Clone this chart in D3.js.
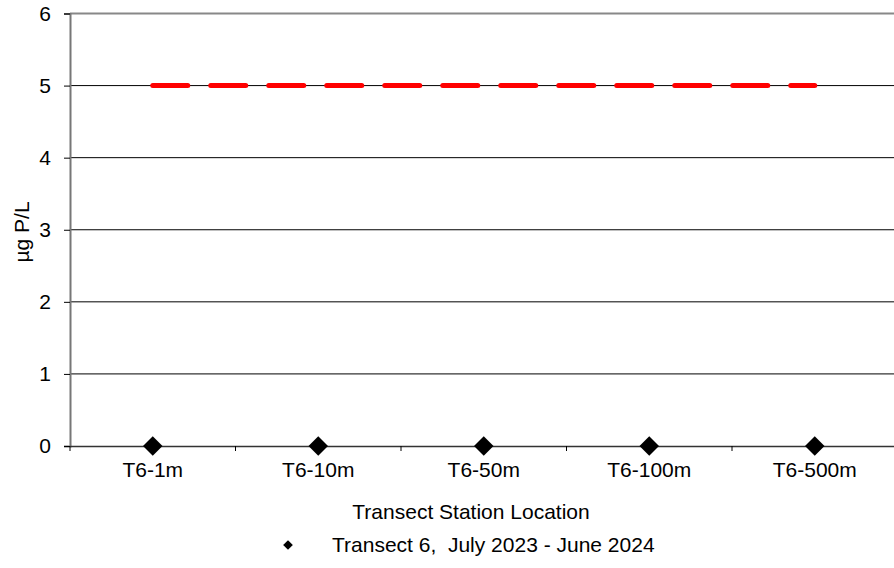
<!DOCTYPE html>
<html lang="en">
  <head>
    <meta charset="utf-8">
    <title>Transect 6</title>
    <script src="https://d3js.org/d3.v7.min.js"></script>
    <style>
      body { margin: 0; background: white; }
      text { font-family: "Liberation Sans", Arial, sans-serif; fill: #000; }
    </style>
  </head>
  <body>
    <script type="text/javascript">

      var w = 894;
      var h = 568;
      var margin = {top: 13.5, right: -3.5, bottom: 122, left: 70};
      var innerWidth = w - margin.left - margin.right;
      var innerHeight = h - margin.top - margin.bottom;

      var stations = ["T6-1m", "T6-10m", "T6-50m", "T6-100m", "T6-500m"];
      var transect6 = [0, 0, 0, 0, 0];
      var criterion = [5, 5, 5, 5, 5];
      var yTicks = [0, 1, 2, 3, 4, 5, 6];
      var legendLabel = "Transect 6,  July 2023 - June 2024";

      var svg = d3.select("body")
          .append("svg")
          .attr("width", w)
          .attr("height", h);

      svg.append("rect")
          .attr("width", w)
          .attr("height", h)
          .attr("fill", "white");

      var xScale = d3.scaleBand()
          .domain(stations)
          .range([0, innerWidth]);

      var yScale = d3.scaleLinear()
          .domain([0, 6])
          .range([innerHeight, 0]);

      var g = svg.append("g")
          .attr("transform", `translate(${margin.left}, ${margin.top})`);

// grid lines
      g.selectAll(".grid")
          .data(yTicks.filter(function(d) { return d > 0 && d < 6; }))
          .enter().append("line")
          .attr("x1", 0)
          .attr("x2", innerWidth)
          .attr("y1", function(d) { return yScale(d); })
          .attr("y2", function(d) { return yScale(d); })
          .style("stroke", "#000")
          .style("stroke-width", "1px");

// top border
      g.append("line")
          .attr("x1", 0).attr("x2", innerWidth)
          .attr("y1", 0).attr("y2", 0)
          .style("stroke", "#888")
          .style("stroke-width", "2px");

// y axis
      var yAxis = d3.axisLeft(yScale)
          .tickValues(yTicks)
          .tickSize(6)
          .tickPadding(13)
          .tickFormat(d3.format("d"));

      var ya = g.append("g").call(yAxis);
      ya.select(".domain").style("stroke", "#777").style("stroke-width", "2px");
      ya.selectAll(".tick line").style("stroke", "#000");
      ya.selectAll("text").style("font-size", "21px");

// x axis
      var xAxis = d3.axisBottom(xScale)
          .tickSize(0)
          .tickPadding(16);

      var xa = g.append("g")
          .attr("transform", `translate(0, ${innerHeight})`)
          .call(xAxis);
      xa.select(".domain").style("stroke", "#333").style("stroke-width", "1.5px");
      xa.selectAll("text").style("font-size", "21px");

      xa.selectAll(".bound")
          .data(stations.concat([null]))
          .enter().append("line")
          .attr("x1", function(d, i) { return i * xScale.step(); })
          .attr("x2", function(d, i) { return i * xScale.step(); })
          .attr("y1", 0)
          .attr("y2", 5)
          .style("stroke", "#000");

// dashed criterion line
      var line = d3.line()
          .x(function(d, i) { return xScale(stations[i]) + xScale.bandwidth() / 2; })
          .y(function(d) { return yScale(d); });

      g.append("path")
          .datum(criterion)
          .attr("d", line)
          .attr("fill", "none")
          .style("stroke", "#ff0000")
          .style("stroke-width", "5px")
          .style("stroke-linecap", "round")
          .style("stroke-dasharray", "35,23");

// diamonds
      var diamond = d3.symbol().type(d3.symbolDiamond2).size(242);
      g.selectAll(".pt")
          .data(transect6)
          .enter().append("path")
          .attr("d", diamond)
          .attr("transform", function(d, i) {
            return `translate(${xScale(stations[i]) + xScale.bandwidth() / 2}, ${yScale(d)})`;
          })
          .attr("fill", "#000");

// axis titles
      svg.append("text")
          .attr("x", 471)
          .attr("y", 519)
          .attr("text-anchor", "middle")
          .style("font-size", "21px")
          .text("Transect Station Location");

      svg.append("text")
          .attr("transform", "translate(29, 232) rotate(-90)")
          .attr("text-anchor", "middle")
          .style("font-size", "21px")
          .text("µg P/L");

// legend
      svg.append("path")
          .attr("d", d3.symbol().type(d3.symbolDiamond2).size(60))
          .attr("transform", "translate(288, 545)")
          .attr("fill", "#000");

      svg.append("text")
          .attr("x", 332)
          .attr("y", 552)
          .style("font-size", "21px")
          .style("white-space", "pre")
          .text(legendLabel);

    </script>
  </body>
</html>
